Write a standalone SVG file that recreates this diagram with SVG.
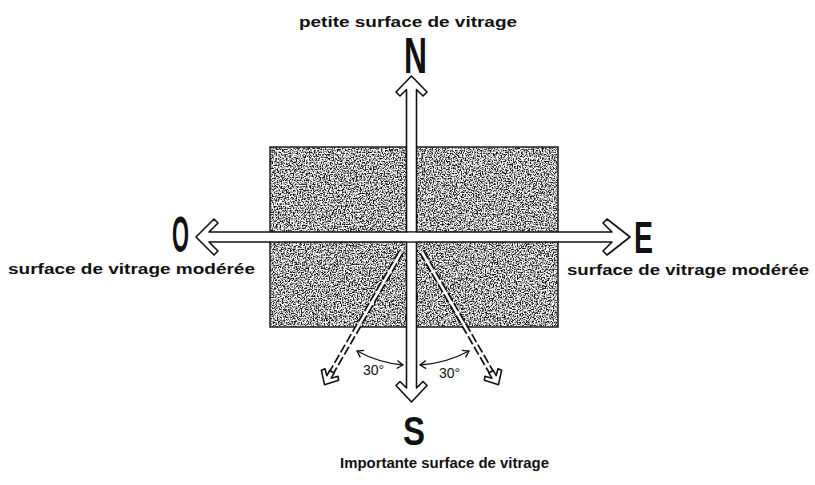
<svg xmlns="http://www.w3.org/2000/svg" width="815" height="485" viewBox="0 0 815 485">
<style>
  .lbl { font-family: "Liberation Sans", Arial, sans-serif; font-weight: bold; font-size: 14px; fill: #111; }
  .card { font-family: "Liberation Sans Narrow", "Liberation Sans", Arial, sans-serif; font-weight: bold; fill: #111; }
  .deg { font-family: "Liberation Sans", Arial, sans-serif; font-size: 14px; fill: #111; }
  .hollow { fill: #fff; stroke: #111; stroke-width: 1.6; stroke-linejoin: round; }
  .arc { fill: none; stroke: #111; stroke-width: 1.3; marker-start: url(#tick); marker-end: url(#tick); }
</style>
<defs>
  <filter id="stip" x="0" y="0" width="1" height="1" filterUnits="objectBoundingBox" color-interpolation-filters="sRGB">
    <feTurbulence type="fractalNoise" baseFrequency="0.75" numOctaves="2" seed="5" result="n"/>
    <feColorMatrix in="n" type="matrix" values="0 0 0 0 0.07  0 0 0 0 0.07  0 0 0 0 0.07  1 0 0 0 0" result="a"/>
    <feComponentTransfer in="a"><feFuncA type="linear" slope="4" intercept="-1.65"/></feComponentTransfer>
  </filter>
  <marker id="tick" markerWidth="10" markerHeight="10" refX="7" refY="5" orient="auto-start-reverse" markerUnits="userSpaceOnUse">
    <path d="M1,1 L7,5 L1,9" fill="none" stroke="#111" stroke-width="1.3"/>
  </marker>
  <g id="dashArrow">
    <line x1="0" y1="6" x2="0" y2="146" stroke="#111" stroke-width="6" stroke-dasharray="9 3"/>
    <line x1="0" y1="6" x2="0" y2="146" stroke="#fff" stroke-width="2.6"/>
    <path d="M0,159 L-10,148 L-7.5,145 L-2.5,150 L-2.5,144 L2.5,144 L2.5,150 L7.5,145 L10,148 Z" class="hollow" stroke-width="1.4"/>
  </g>
</defs>

<g id="building">
  <rect x="270" y="147" width="288" height="180" fill="#fff"/>
  <rect x="270" y="147" width="288" height="180" fill="#000" filter="url(#stip)"/>
  <rect x="270" y="147" width="288" height="180" fill="none" stroke="#222" stroke-width="1.5"/>
</g>

<g id="connectors">
  <use href="#dashArrow" transform="translate(404,247) rotate(30)"/>
  <use href="#dashArrow" transform="translate(419,247) rotate(-30)"/>
  <path class="hollow" d="M411.5,76 L427,92 L423,96 L416.5,89.5 L416.5,388 L423,381.5 L427,385.5 L411.5,402 L396,385.5 L400,381.5 L406.5,388 L406.5,89.5 L400,96 L396,92 Z"/>
  <path class="hollow" d="M196,237 L214,219 L218,223 L209,232 L612,232 L603,223 L607,219 L630,237 L607,255 L603,251 L612,242 L209,242 L218,251 L214,255 Z"/>
  <rect x="407.3" y="232.8" width="8.4" height="8.4" fill="#fff"/>
  <path class="arc" d="M357,351 A120,120 0 0 0 403,365"/>
  <path class="arc" d="M420,365 A120,120 0 0 0 469,351"/>
</g>

<g id="north">
  <text class="lbl" x="408" y="27" text-anchor="middle" textLength="218" lengthAdjust="spacingAndGlyphs">petite surface de vitrage</text>
  <text class="card" x="404" y="73" font-size="50" textLength="23" lengthAdjust="spacingAndGlyphs">N</text>
</g>
<g id="west">
  <text class="card" x="172" y="252" font-size="50" textLength="17" lengthAdjust="spacingAndGlyphs">O</text>
  <text class="lbl" x="8" y="274" textLength="247" lengthAdjust="spacingAndGlyphs">surface de vitrage modérée</text>
</g>
<g id="east">
  <text class="card" x="634" y="253" font-size="45" textLength="19" lengthAdjust="spacingAndGlyphs">E</text>
  <text class="lbl" x="567" y="275" textLength="242" lengthAdjust="spacingAndGlyphs">surface de vitrage modérée</text>
</g>
<g id="south">
  <text class="card" x="403" y="445" font-size="40" textLength="22" lengthAdjust="spacingAndGlyphs">S</text>
  <text class="lbl" x="340" y="468" textLength="209" lengthAdjust="spacingAndGlyphs">Importante surface de vitrage</text>
</g>
<g id="angles">
  <text class="deg" x="363" y="375">30°</text>
  <text class="deg" x="439" y="378">30°</text>
</g>
</svg>
